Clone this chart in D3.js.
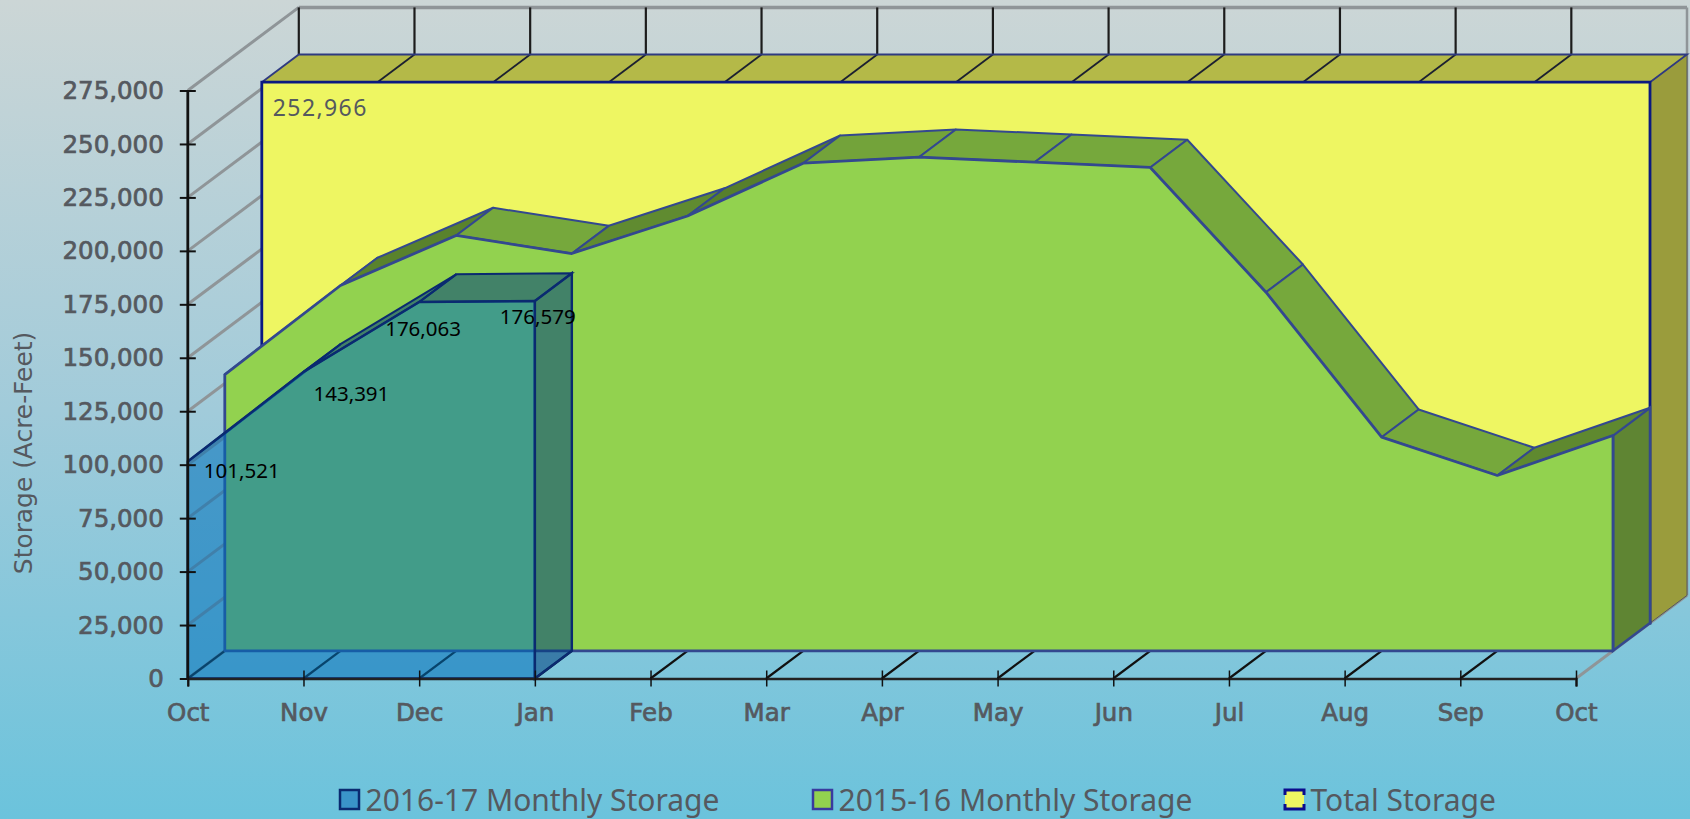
<!DOCTYPE html>
<html>
<head>
<meta charset="utf-8">
<script src="https://cdnjs.cloudflare.com/ajax/libs/d3/7.8.5/d3.min.js"></script>
<style>
	html, body { margin: 0; padding: 0; overflow: hidden; }
	svg { display: block; }
</style>
</head>
<body>
<div id="chart"></div>
<script>
const MONTHS = ['Oct', 'Nov', 'Dec', 'Jan', 'Feb', 'Mar', 'Apr', 'May', 'Jun', 'Jul', 'Aug', 'Sep', 'Oct'];
const Y_TICKS = [0, 25000, 50000, 75000, 100000, 125000, 150000, 175000, 200000, 225000, 250000, 275000];
const STORAGE_2016_17 = [101521, 143391, 176063, 176579];
const STORAGE_2015_16 = [129200, 170850, 194250, 185800, 203350, 228050, 230850, 228500, 226050, 167700, 99900, 82000, 100700];
const TOTAL_STORAGE = [252966, 252966, 252966, 252966, 252966, 252966, 252966, 252966, 252966, 252966, 252966, 252966, 252966];
const LEGEND_LABELS = ['2016-17 Monthly Storage', '2015-16 Monthly Storage', 'Total Storage'];
const Y_TITLE = 'Storage (Acre-Feet)';

const WIDTH = 1690;
const HEIGHT = 819;
// one depth layer of the fake 3d box, in px
const DX = 37;
const DY = -27.7;

const GREY = '#55595f';
const GRID = '#8f9598';
const EDGE_BLUE = '#0a2a70';
const EDGE_GREEN = '#33488f';
const EDGE_YELLOW = '#0b1a80';

const x = d3.scaleLinear().domain([0, MONTHS.length - 1]).range([187.8, 1576]);
const y = d3.scaleLinear().domain([0, 275000]).range([678.5, 90.5]);

// screen point for month i, value v, on depth layer z
const pt = (i, v, z) => [x(i) + z * DX, y(v) + z * DY];
const poly = pts => 'M' + pts.map(p => p.join(',')).join('L') + 'Z';

const svg = d3.select('#chart').append('svg')
	.attr('width', WIDTH)
	.attr('height', HEIGHT);

const bg = svg.append('defs').append('linearGradient')
	.attr('id', 'bg')
	.attr('x1', 0).attr('y1', 0).attr('x2', 0).attr('y2', 1);
bg.append('stop').attr('offset', '0%').attr('stop-color', '#ccd6d6');
bg.append('stop').attr('offset', '50%').attr('stop-color', '#a1cbda');
bg.append('stop').attr('offset', '100%').attr('stop-color', '#6bc3dc');

svg.append('rect')
	.attr('width', WIDTH)
	.attr('height', HEIGHT)
	.attr('fill', 'url(#bg)');

const nMonths = MONTHS.length - 1;

// back wall, side wall and floor lines
svg.selectAll('.side-grid')
	.data(Y_TICKS)
	.enter().append('line')
		.attr('class', 'side-grid')
		.attr('x1', x(0))
		.attr('y1', d => y(d))
		.attr('x2', x(0) + 3 * DX)
		.attr('y2', d => y(d) + 3 * DY)
		.attr('stroke', GRID)
		.attr('stroke-width', 3);

svg.append('line')
	.attr('x1', x(0) + 3 * DX).attr('y1', y(275000) + 3 * DY)
	.attr('x2', x(nMonths) + 3 * DX).attr('y2', y(275000) + 3 * DY)
	.attr('stroke', GRID)
	.attr('stroke-width', 3.5);

svg.append('line')
	.attr('x1', x(nMonths) + 3 * DX).attr('y1', y(275000) + 3 * DY)
	.attr('x2', x(nMonths) + 3 * DX).attr('y2', y(0) + 3 * DY)
	.attr('stroke', GRID)
	.attr('stroke-width', 2.5);

svg.append('line')
	.attr('x1', x(nMonths)).attr('y1', y(0))
	.attr('x2', x(nMonths) + 3 * DX).attr('y2', y(0) + 3 * DY)
	.attr('stroke', GRID)
	.attr('stroke-width', 3);

svg.selectAll('.back-month')
	.data(d3.range(0, nMonths))
	.enter().append('line')
		.attr('class', 'back-month')
		.attr('x1', d => x(d) + 3 * DX)
		.attr('y1', y(275000) + 3 * DY)
		.attr('x2', d => x(d) + 3 * DX)
		.attr('y2', y(252966) + 3 * DY)
		.attr('stroke', '#1c1c1c')
		.attr('stroke-width', 2.2);

svg.selectAll('.floor-month')
	.data(d3.range(0, nMonths))
	.enter().append('line')
		.attr('class', 'floor-month')
		.attr('x1', d => x(d))
		.attr('y1', y(0))
		.attr('x2', d => x(d) + DX)
		.attr('y2', y(0) + DY)
		.attr('stroke', '#111')
		.attr('stroke-width', 2.2);

// total storage, depth layer 2
const last = nMonths;
svg.append('path')
	.attr('d', poly([pt(0, TOTAL_STORAGE[0], 2), pt(0, TOTAL_STORAGE[0], 3), pt(last, TOTAL_STORAGE[last], 3), pt(last, TOTAL_STORAGE[last], 2)]))
	.attr('fill', '#b4b948');

svg.append('path')
	.attr('d', poly([pt(last, TOTAL_STORAGE[last], 2), pt(last, TOTAL_STORAGE[last], 3), pt(last, 0, 3), pt(last, 0, 2)]))
	.attr('fill', '#9a9c3c')
	.attr('stroke', GREY)
	.attr('stroke-width', 1);

svg.selectAll('.total-top')
	.data(d3.range(1, nMonths))
	.enter().append('line')
		.attr('class', 'total-top')
		.attr('x1', d => pt(d, TOTAL_STORAGE[d], 2)[0])
		.attr('y1', d => pt(d, TOTAL_STORAGE[d], 2)[1])
		.attr('x2', d => pt(d, TOTAL_STORAGE[d], 3)[0])
		.attr('y2', d => pt(d, TOTAL_STORAGE[d], 3)[1])
		.attr('stroke', '#1c2030')
		.attr('stroke-width', 1.8);

svg.append('path')
	.attr('d', 'M' + [pt(0, TOTAL_STORAGE[0], 2), pt(0, TOTAL_STORAGE[0], 3), pt(last, TOTAL_STORAGE[last], 3), pt(last, TOTAL_STORAGE[last], 2)].map(p => p.join(',')).join('L'))
	.attr('fill', 'none')
	.attr('stroke', '#2f3a80')
	.attr('stroke-width', 1.8);

svg.append('path')
	.attr('d', poly([pt(0, 0, 2), ...TOTAL_STORAGE.map((v, i) => pt(i, v, 2)), pt(last, 0, 2)]))
	.attr('fill', '#eef662')
	.attr('stroke', EDGE_YELLOW)
	.attr('stroke-width', 2.8);

// 2015-16 storage, depth layer 1
const greenTop = d3.scaleLinear().domain([0, 25000]).range(['#76a83c', '#577f2b']).clamp(true);

svg.append('path')
	.attr('d', poly([pt(last, STORAGE_2015_16[last], 1), pt(last, STORAGE_2015_16[last], 2), pt(last, 0, 2), pt(last, 0, 1)]))
	.attr('fill', '#5f8533')
	.attr('stroke', EDGE_GREEN)
	.attr('stroke-width', 2.5);

svg.selectAll('.green-top')
	.data(d3.range(0, nMonths))
	.enter().append('path')
		.attr('class', 'green-top')
		.attr('d', i => poly([
			pt(i, STORAGE_2015_16[i], 1), pt(i + 1, STORAGE_2015_16[i + 1], 1),
			pt(i + 1, STORAGE_2015_16[i + 1], 2), pt(i, STORAGE_2015_16[i], 2)
		]))
		.attr('fill', i => greenTop(STORAGE_2015_16[i + 1] - STORAGE_2015_16[i]))
		.attr('stroke', EDGE_GREEN)
		.attr('stroke-width', 2)
		.attr('stroke-linejoin', 'round');

svg.append('path')
	.attr('d', poly([pt(0, 0, 1), ...STORAGE_2015_16.map((v, i) => pt(i, v, 1)), pt(last, 0, 1)]))
	.attr('fill', '#92d24f')
	.attr('stroke', EDGE_GREEN)
	.attr('stroke-width', 2.8)
	.attr('stroke-linejoin', 'round');

// 2016-17 storage, depth layer 0, see-through so the green shows under it
const blueLast = STORAGE_2016_17.length - 1;

svg.selectAll('.blue-top')
	.data(d3.range(0, blueLast))
	.enter().append('path')
		.attr('class', 'blue-top')
		.attr('d', i => poly([
			pt(i, STORAGE_2016_17[i], 0), pt(i + 1, STORAGE_2016_17[i + 1], 0),
			pt(i + 1, STORAGE_2016_17[i + 1], 1), pt(i, STORAGE_2016_17[i], 1)
		]))
		.attr('fill', '#00407e')
		.attr('fill-opacity', 0.55)
		.attr('stroke', EDGE_BLUE)
		.attr('stroke-width', 2);

svg.append('path')
	.attr('d', poly([
		pt(blueLast, STORAGE_2016_17[blueLast], 0), pt(blueLast, STORAGE_2016_17[blueLast], 1),
		pt(blueLast, 0, 1), pt(blueLast, 0, 0)
	]))
	.attr('fill', '#00407e')
	.attr('fill-opacity', 0.55)
	.attr('stroke', EDGE_BLUE)
	.attr('stroke-width', 2.4);

svg.append('path')
	.attr('d', poly([pt(0, 0, 0), ...STORAGE_2016_17.map((v, i) => pt(i, v, 0)), pt(blueLast, 0, 0)]))
	.attr('fill', '#0070ba')
	.attr('fill-opacity', 0.55)
	.attr('stroke', EDGE_BLUE)
	.attr('stroke-width', 2.4);

// axes
const yAxis = svg.append('g')
	.attr('transform', `translate(${x(0)},0)`)
	.call(d3.axisLeft(y).tickValues(Y_TICKS).tickFormat(d3.format(',')).tickSize(8).tickPadding(16));

yAxis.selectAll('.tick line').attr('x2', 8).attr('x1', -8).attr('stroke', '#111').attr('stroke-width', 2);
yAxis.select('.domain').attr('d', `M0,${y(275000)}V${y(0)}`).attr('stroke', '#111').attr('stroke-width', 2.8);

const xAxis = svg.append('g')
	.attr('transform', `translate(0,${y(0)})`)
	.call(d3.axisBottom(x).tickValues(d3.range(0, MONTHS.length)).tickFormat(i => MONTHS[i]).tickSize(8).tickPadding(17));

xAxis.selectAll('.tick line').attr('y1', -8).attr('stroke', '#111').attr('stroke-width', 1.5);
xAxis.select('.domain').attr('stroke', '#222').attr('stroke-width', 2.4);

svg.selectAll('.tick text')
	.attr('font-family', '"DejaVu Sans", sans-serif')
	.attr('font-size', 24.5)
	.attr('fill', GREY)
	.attr('stroke', GREY)
	.attr('stroke-width', 0.7);

yAxis.selectAll('.tick text').attr('dy', '0.33em');

svg.append('text')
	.attr('transform', 'translate(32,453) rotate(-90)')
	.attr('text-anchor', 'middle')
	.attr('font-family', '"DejaVu Sans", sans-serif')
	.attr('font-size', 24.9)
	.attr('fill', GREY)
	.text(Y_TITLE);

// value labels, nudged off the points the way the original places them
const LABEL_NUDGE = [[16, 9], [10, 22], [-34, 27], [-35, 16]];

svg.selectAll('.value-label')
	.data(STORAGE_2016_17)
	.enter().append('text')
		.attr('class', 'value-label')
		.attr('x', (d, i) => x(i) + LABEL_NUDGE[i][0])
		.attr('y', (d, i) => y(d) + LABEL_NUDGE[i][1])
		.attr('dy', '0.35em')
		.attr('font-family', '"Noto Sans", sans-serif')
		.attr('font-size', 20.5)
		.attr('fill', '#000')
		.text(d => d3.format(',')(d));

svg.append('text')
	.attr('x', pt(0, TOTAL_STORAGE[0], 2)[0] + 11)
	.attr('y', pt(0, TOTAL_STORAGE[0], 2)[1] + 26)
	.attr('dy', '0.35em')
	.attr('font-family', '"Noto Sans", sans-serif')
	.attr('font-size', 23)
	.attr('letter-spacing', 1.4)
	.attr('fill', GREY)
	.text(d3.format(',')(TOTAL_STORAGE[0]));

// legend
const LEGEND_X = [340, 813, 1285];
const LEGEND_FILLS = ['#3a94c9', '#92d24f', '#eef662'];
const LEGEND_EDGES = [EDGE_BLUE, '#3a3a9e', null];

const legend = svg.selectAll('.legend')
	.data(LEGEND_LABELS)
	.enter().append('g')
		.attr('class', 'legend')
		.attr('transform', (d, i) => `translate(${LEGEND_X[i]},790)`);

legend.append('rect')
	.attr('width', 19)
	.attr('height', 19)
	.attr('fill', (d, i) => LEGEND_FILLS[i])
	.attr('stroke', (d, i) => LEGEND_EDGES[i] || 'none')
	.attr('stroke-width', 2.5);

// the yellow swatch has only its top and bottom edges, plus short corners
legend.filter((d, i) => i === 2).selectAll('path')
	.data(['M0,5V0H19V5', 'M0,14V19H19V14'])
	.enter().append('path')
		.attr('d', d => d)
		.attr('fill', 'none')
		.attr('stroke', '#0b0b8c')
		.attr('stroke-width', 3);

legend.append('text')
	.attr('x', 25.5)
	.attr('y', 10)
	.attr('dy', '0.35em')
	.attr('font-family', '"Noto Sans", sans-serif')
	.attr('font-size', 30)
	.attr('fill', GREY)
	.text(d => d);
</script>
</body>
</html>
